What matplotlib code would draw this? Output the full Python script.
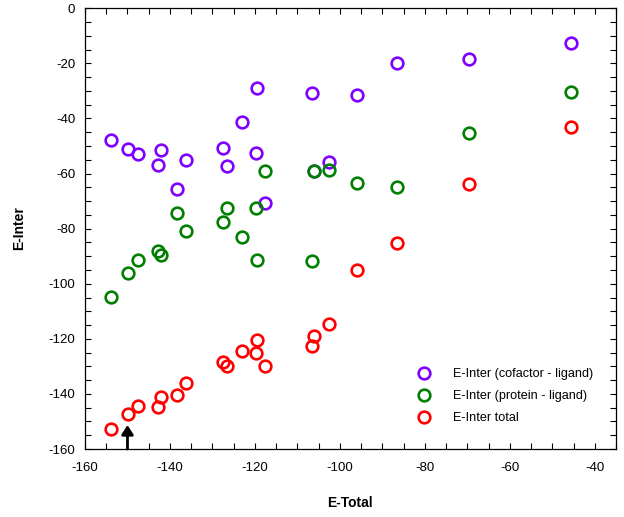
import matplotlib
matplotlib.use("Agg")
import matplotlib.pyplot as plt
from matplotlib.ticker import MultipleLocator

plt.rcParams['font.family'] = ['Liberation Sans', 'DejaVu Sans']
plt.rcParams['axes.unicode_minus'] = False

e_total = [-153.9, -149.9, -147.5, -142.1, -142.7, -136.3, -138.3, -127.5, -126.6, -123.1,
           -119.5, -119.8, -117.6, -106.6, -106.0, -102.6, -96.0, -86.5, -69.6, -45.7]
e_cofactor = [-47.8, -51.1, -52.8, -51.3, -56.8, -55.1, -65.6, -50.6, -57.2, -41.2,
              -28.8, -52.4, -70.6, -30.6, -59.1, -55.7, -31.5, -20.0, -18.3, -12.5]
e_protein = [-104.7, -96.0, -91.4, -89.6, -88.0, -80.8, -74.4, -77.5, -72.5, -83.2,
             -91.4, -72.6, -59.0, -91.6, -59.1, -58.7, -63.3, -64.8, -45.2, -30.3]
e_inter_total = [-152.6, -147.2, -144.3, -141.0, -144.7, -135.9, -140.4, -128.3, -129.9, -124.3,
                 -120.4, -125.1, -129.9, -122.6, -119.0, -114.5, -95.0, -85.2, -63.7, -43.0]
labels = ['E-Inter (cofactor - ligand)', 'E-Inter (protein - ligand)', 'E-Inter total']
colors = ['#8000FF', '#008000', '#FF0000']
arrow_x = -150
arrow_tip = -151.3

fig = plt.figure(figsize=(6.24, 5.17), dpi=100)
ax = fig.add_axes([85/624, 1-449/517, (616-85)/624, (449-8.3)/517])

for ys, c, lab in zip([e_cofactor, e_protein, e_inter_total], colors, labels):
    ax.plot(e_total, ys, linestyle='none', marker='o', markersize=8.4,
            markerfacecolor='none', markeredgecolor=c, markeredgewidth=1.9, label=lab)

ax.set_xlim(-160, -35)
ax.set_ylim(-160, 0)
ax.xaxis.set_major_locator(MultipleLocator(20))
ax.xaxis.set_minor_locator(MultipleLocator(5))
ax.yaxis.set_major_locator(MultipleLocator(20))
ax.yaxis.set_minor_locator(MultipleLocator(5))
ax.tick_params(which='both', direction='in', top=True, right=True, length=4.5, width=0.8,
               color='black')
ax.tick_params(which='major', labelsize=9.5)
ax.tick_params(axis='x', which='major', pad=9.5)
ax.tick_params(axis='y', which='major', pad=7)
for s in ax.spines.values():
    s.set_linewidth(0.9)

ax.annotate('', xy=(arrow_x, arrow_tip), xytext=(arrow_x, -160),
            arrowprops=dict(arrowstyle='-|>,head_width=0.35,head_length=0.55', color='black',
                            lw=2, shrinkA=0, shrinkB=0))

fig.text(350/624, 1-503/517, 'E-Total', ha='center', va='center', fontsize=10, fontweight='bold')
fig.text(19/624, 1-228.5/517, 'E-Inter', ha='center', va='center', rotation=90,
         fontsize=10, fontweight='bold')

ax.legend(loc='upper left', bbox_to_anchor=(411/624, 1-368/517), bbox_transform=fig.transFigure,
          frameon=False, fontsize=9.1, borderpad=0, borderaxespad=0, handlelength=2.1,
          handletextpad=1.25, labelspacing=0.8, numpoints=1)

fig.savefig('out.png', dpi=100)
